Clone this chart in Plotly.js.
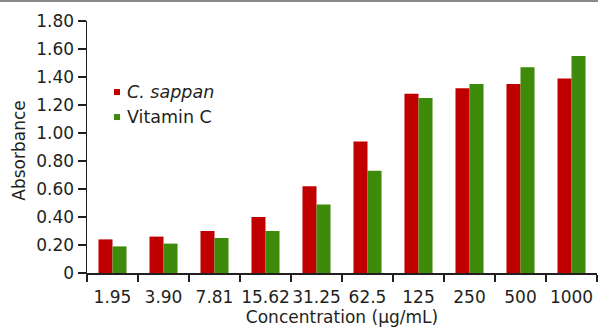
<!DOCTYPE html>
<html>
<head>
<meta charset="utf-8">
<script src="https://cdn.plot.ly/plotly-3.0.1.min.js"></script>
<style>
  html, body { margin: 0; padding: 0; background: #fff; }
  #chart { width: 598px; height: 327px; }
  #topline { position: absolute; left: 0; top: 0; width: 598px; height: 2px; background: #8a8a8a; z-index: 10; }
</style>
</head>
<body>
<div id="topline"></div>
<div id="chart"></div>
<script>
const categories = ["1.95", "3.90", "7.81", "15.62", "31.25", "62.5", "125", "250", "500", "1000"];
const seriesNames = ["<i>C. sappan</i>", "Vitamin C"];
const cSappan = [0.24, 0.26, 0.30, 0.40, 0.62, 0.94, 1.28, 1.32, 1.35, 1.39];
const vitaminC = [0.19, 0.21, 0.25, 0.30, 0.49, 0.73, 1.25, 1.35, 1.47, 1.55];
const yTickVals = [0, 0.2, 0.4, 0.6, 0.8, 1.0, 1.2, 1.4, 1.6, 1.8];
const yTickText = ["0", "0.20", "0.40", "0.60", "0.80", "1.00", "1.20", "1.40", "1.60", "1.80"];
const xTitle = "Concentration (µg/mL)";
const yTitle = "Absorbance";
const colors = ["#c00000", "#3e8a0b"];

const fam = "DejaVu Sans, Liberation Sans, Arial, sans-serif";
const font = { family: fam, size: 17, color: "#231f20" };
const legendFont = { family: fam, size: 17.5, color: "#231f20" };

const traces = [
  { type: "bar", x: categories, y: cSappan, name: seriesNames[0], marker: { color: colors[0] }, showlegend: false, hoverinfo: "x+y" },
  { type: "bar", x: categories, y: vitaminC, name: seriesNames[1], marker: { color: colors[1] }, showlegend: false, hoverinfo: "x+y" }
];

// manual legend (small square swatches + labels)
const legendY = [0.718, 0.619];
const shapes = [];
const annotations = [];
seriesNames.forEach((nm, i) => {
  shapes.push({ type: "rect", xref: "paper", yref: "paper",
    x0: 0.0529, x1: 0.0647, y0: legendY[i] - 0.012, y1: legendY[i] + 0.012,
    fillcolor: colors[i], line: { width: 0 } });
  annotations.push({ xref: "paper", yref: "paper", x: 0.0745, y: legendY[i],
    xanchor: "left", yanchor: "middle", showarrow: false, text: nm, font: legendFont });
});
// y-axis title placed precisely
annotations.push({ xref: "paper", yref: "paper", x: -0.134, y: 0.484,
  xanchor: "center", yanchor: "middle", textangle: -90, showarrow: false, text: yTitle, font: font });

const layout = {
  width: 598, height: 327,
  margin: { l: 87, r: 1, t: 21, b: 54 },
  paper_bgcolor: "#fff", plot_bgcolor: "#fff",
  font: font,
  barmode: "group", bargap: 0.45, bargroupgap: 0,
  showlegend: false,
  xaxis: {
    type: "category",
    range: [-0.5, 9.5],
    showgrid: false, zeroline: false,
    showline: true, linecolor: "#231f20", linewidth: 1.5,
    ticks: "outside", tickson: "boundaries", ticklen: 7, tickwidth: 1.5, tickcolor: "#231f20",
    tickangle: 0, ticklabelstandoff: 8,
    tickfont: font,
    title: { text: xTitle, font: font, standoff: 1 },
    automargin: false, fixedrange: true
  },
  yaxis: {
    range: [0, 1.8],
    tickvals: yTickVals, ticktext: yTickText,
    showgrid: false, zeroline: false,
    showline: true, linecolor: "#231f20", linewidth: 1.5,
    ticks: "outside", ticklen: 8, tickwidth: 1.5, tickcolor: "#231f20",
    tickfont: font,
    automargin: false, fixedrange: true
  },
  shapes: shapes,
  annotations: annotations
};

Plotly.newPlot("chart", traces, layout, { displayModeBar: false, staticPlot: true });
</script>
</body>
</html>
